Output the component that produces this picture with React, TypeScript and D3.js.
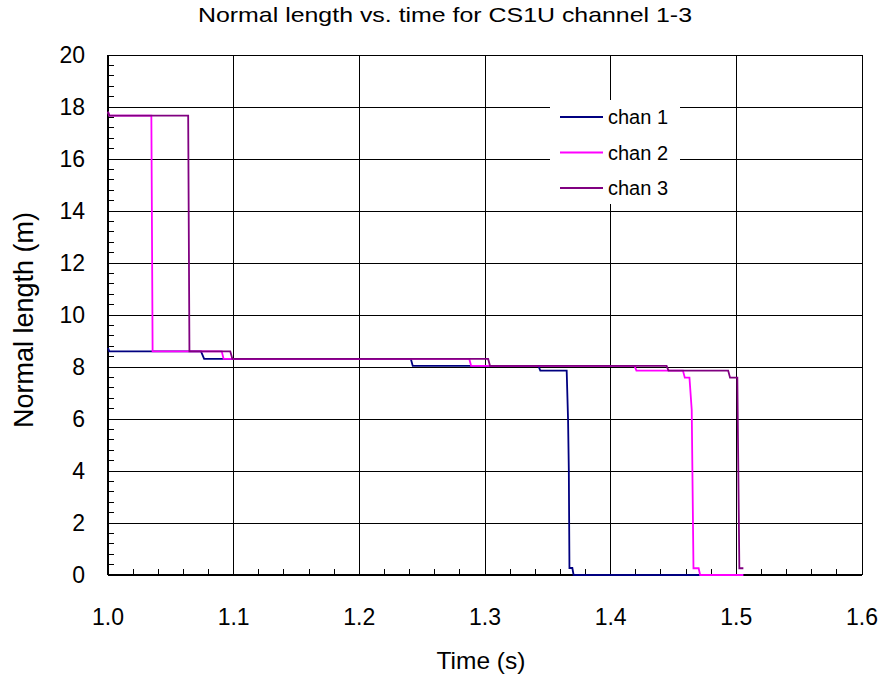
import React, { useEffect, useRef } from "react";
import * as d3 from "d3";

const W = 888;
const H = 683;

const seriesNames = ["chan 1", "chan 2", "chan 3"];
const seriesColors = ["#000080", "#FF00FF", "#800080"];

const chan1Time = [1.0, 1.001, 1.074, 1.0765, 1.241, 1.2425, 1.3425, 1.344, 1.365, 1.3661, 1.3667, 1.3672, 1.3695, 1.3705, 1.5056];
const chan1Len = [8.73, 8.6, 8.6, 8.31, 8.31, 8.04, 8.04, 7.86, 7.86, 5.96, 4.04, 0.27, 0.27, 0, 0];

const chan2Time = [1.0, 1.001, 1.0345, 1.0355, 1.0905, 1.092, 1.2875, 1.289, 1.419, 1.4205, 1.4575, 1.459, 1.4627, 1.4645, 1.4659, 1.47, 1.4712, 1.5056];
const chan2Len = [17.82, 17.67, 17.67, 8.6, 8.6, 8.31, 8.31, 8.04, 8.04, 7.86, 7.86, 7.59, 7.59, 6.35, 0.26, 0.26, 0, 0];

const chan3Time = [1.0, 1.001, 1.0638, 1.0648, 1.0973, 1.099, 1.3025, 1.304, 1.4445, 1.446, 1.4935, 1.495, 1.5008, 1.5024, 1.5056];
const chan3Len = [17.82, 17.67, 17.67, 8.6, 8.6, 8.31, 8.31, 8.04, 8.04, 7.86, 7.86, 7.59, 7.59, 0.26, 0.26];

const xTicks = [1.0, 1.1, 1.2, 1.3, 1.4, 1.5, 1.6];
const yTicks = [0, 2, 4, 6, 8, 10, 12, 14, 16, 18, 20];

const titleText = "Normal length vs. time for CS1U channel 1-3";
const xTitle = "Time (s)";
const yTitle = "Normal length (m)";

export default function App() {
  const ref = useRef<SVGSVGElement>(null);

  useEffect(() => {
    const svg = d3.select(ref.current);
    svg.selectAll("*").remove();
    const left = 108, right = 862, top = 55, bottom = 575;
    const x = d3.scaleLinear().domain([1.0, 1.6]).range([left, right]);
    const y = d3.scaleLinear().domain([0, 20]).range([bottom, top]);
    const font = "'Liberation Sans', Arial, sans-serif";

    svg.append("rect").attr("width", W).attr("height", H).attr("fill", "#fff");

    // grid
    const g = svg.append("g");
    yTicks.forEach((t) => {
      g.append("line").attr("x1", left).attr("x2", right).attr("y1", y(t)).attr("y2", y(t))
        .attr("stroke", "#000").attr("stroke-width", 1).attr("shape-rendering", "crispEdges");
    });
    xTicks.forEach((t) => {
      g.append("line").attr("x1", x(t)).attr("x2", x(t)).attr("y1", top).attr("y2", bottom)
        .attr("stroke", "#000").attr("stroke-width", 1).attr("shape-rendering", "crispEdges");
    });

    // minor ticks
    d3.range(0, 20.001, 0.4).forEach((t) => {
      g.append("line").attr("x1", left).attr("x2", left + 6).attr("y1", y(t)).attr("y2", y(t))
        .attr("stroke", "#000").attr("stroke-width", 1).attr("shape-rendering", "crispEdges");
    });
    d3.range(1.0, 1.6001, 0.02).forEach((t) => {
      g.append("line").attr("x1", x(t)).attr("x2", x(t)).attr("y1", bottom).attr("y2", bottom - 6)
        .attr("stroke", "#000").attr("stroke-width", 1).attr("shape-rendering", "crispEdges");
    });

    // axes
    g.append("line").attr("x1", left).attr("x2", left).attr("y1", top).attr("y2", bottom)
      .attr("stroke", "#000").attr("stroke-width", 2);
    g.append("line").attr("x1", left).attr("x2", right).attr("y1", bottom).attr("y2", bottom)
      .attr("stroke", "#000").attr("stroke-width", 2);

    // legend background
    svg.append("rect").attr("x", 550).attr("y", 100).attr("width", 130).attr("height", 104).attr("fill", "#fff");

    const times = [chan1Time, chan2Time, chan3Time];
    const lens = [chan1Len, chan2Len, chan3Len];
    const line = d3.line<[number, number]>().x((d) => x(d[0])).y((d) => y(d[1]));
    times.forEach((ts, i) => {
      const pts = ts.map((t, j) => [t, lens[i][j]] as [number, number]);
      svg.append("path").attr("d", line(pts)!).attr("fill", "none")
        .attr("stroke", seriesColors[i]).attr("stroke-width", 1.8).attr("stroke-linejoin", "miter");
    });

    // legend
    seriesNames.forEach((n, i) => {
      const ly = 117 + i * 35.5;
      svg.append("line").attr("x1", 560).attr("x2", 603).attr("y1", ly).attr("y2", ly)
        .attr("stroke", seriesColors[i]).attr("stroke-width", 1.8);
      svg.append("text").attr("x", 608).attr("y", ly).attr("dy", "0.35em")
        .attr("font-family", font).attr("font-size", 20).attr("fill", "#000").text(n);
    });

    // tick labels
    yTicks.forEach((t) => {
      svg.append("text").attr("x", 85).attr("y", y(t)).attr("dy", "0.35em").attr("text-anchor", "end")
        .attr("font-family", font).attr("font-size", 23).attr("fill", "#000").text(String(t));
    });
    xTicks.forEach((t) => {
      svg.append("text").attr("x", x(t)).attr("y", 617).attr("dy", "0.35em").attr("text-anchor", "middle")
        .attr("font-family", font).attr("font-size", 23).attr("fill", "#000").text(t.toFixed(1));
    });

    // titles
    svg.append("text").attr("x", 445).attr("y", 15).attr("dy", "0.35em").attr("text-anchor", "middle")
      .attr("font-family", font).attr("font-size", 21).attr("textLength", 494).attr("lengthAdjust", "spacingAndGlyphs")
      .attr("fill", "#000").text(titleText);
    svg.append("text").attr("x", 481).attr("y", 660).attr("dy", "0.35em").attr("text-anchor", "middle")
      .attr("font-family", font).attr("font-size", 24.5).attr("fill", "#000").text(xTitle);
    svg.append("text").attr("transform", "translate(24,320) rotate(-90)").attr("dy", "0.35em")
      .attr("text-anchor", "middle").attr("font-family", font).attr("font-size", 27).attr("fill", "#000").text(yTitle);
  }, []);

  return (
    <svg ref={ref} width={W} height={H} style={{ position: "absolute", left: 0, top: 0 }} />
  );
}
